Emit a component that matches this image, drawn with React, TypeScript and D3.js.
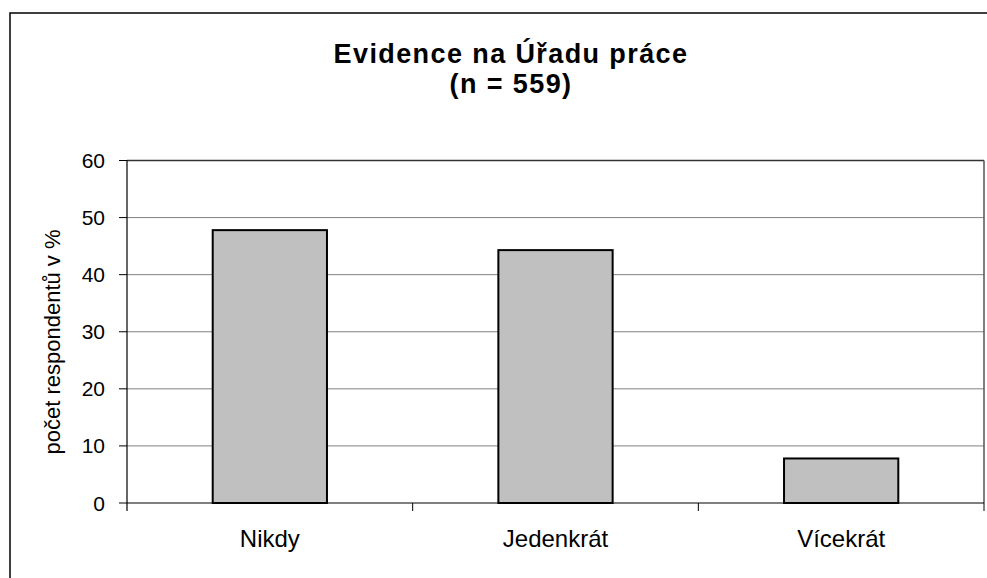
import React from 'react';
import * as d3 from 'd3';

const categories = ['Nikdy', 'Jedenkrát', 'Vícekrát'];
const values = [47.8, 44.3, 7.8];
const yTicks = [0, 10, 20, 30, 40, 50, 60];
const titleLines = ['Evidence na Úřadu práce', '(n = 559)'];
const yLabel = 'počet respondentů v %';

const FONT = '"Liberation Sans", Arial, sans-serif';

const App = () => {
  const width = 987;
  const height = 578;
  const plot = { left: 127, right: 984, top: 160.5, bottom: 503 };

  const x = d3
    .scaleBand<string>()
    .domain(categories)
    .range([plot.left, plot.right])
    .paddingInner(0.6)
    .paddingOuter(0.3);
  const y = d3.scaleLinear().domain([0, 60]).range([plot.bottom, plot.top]);

  const step = x.step();
  const boundaries = d3.range(categories.length + 1).map(i => plot.left + i * step);

  return (
    <svg
      width={width}
      height={height}
      style={{ position: 'absolute', left: 0, top: 0, background: '#fff' }}
      fontFamily={FONT}
    >
      <rect x={10} y={13} width={1100} height={700} fill="#fff" stroke="#000" strokeWidth={1.5} />

      {titleLines.map((t, i) => (
        <text
          key={t}
          x={511}
          y={63 + i * 30}
          textAnchor="middle"
          fontSize={27}
          fontWeight="bold"
          letterSpacing={1.4}
          fill="#000"
        >
          {t}
        </text>
      ))}

      {/* gridlines */}
      {yTicks.slice(1, -1).map(t => (
        <line key={t} x1={plot.left} x2={plot.right} y1={y(t)} y2={y(t)} stroke="#808080" strokeWidth={1} />
      ))}
      <line x1={plot.left} x2={plot.right} y1={y(60)} y2={y(60)} stroke="#333" strokeWidth={1.5} />
      <line x1={plot.right} x2={plot.right} y1={y(60)} y2={plot.bottom} stroke="#555" strokeWidth={1.5} />

      {/* bars */}
      {categories.map((c, i) => (
        <rect
          key={c}
          x={x(c)}
          y={y(values[i])}
          width={x.bandwidth()}
          height={y(0) - y(values[i])}
          fill="#c0c0c0"
          stroke="#000"
          strokeWidth={2}
        />
      ))}

      {/* axes */}
      <line x1={plot.left} x2={plot.right} y1={plot.bottom} y2={plot.bottom} stroke="#000" strokeWidth={1.2} />
      <line x1={plot.left} x2={plot.left} y1={plot.top} y2={plot.bottom + 8} stroke="#000" strokeWidth={1.2} />
      {yTicks.map(t => (
        <g key={t}>
          <line x1={plot.left - 8} x2={plot.left} y1={y(t)} y2={y(t)} stroke="#000" strokeWidth={1} />
          <text x={105} y={y(t)} dy="0.36em" textAnchor="end" fontSize={21} fill="#000">
            {t}
          </text>
        </g>
      ))}
      {boundaries.slice(1).map((b, i) => (
        <line key={i} x1={b} x2={b} y1={plot.bottom} y2={plot.bottom + 8} stroke="#000" strokeWidth={1} />
      ))}
      {categories.map(c => (
        <text key={c} x={(x(c) as number) + x.bandwidth() / 2} y={547} textAnchor="middle" fontSize={24} fill="#000">
          {c}
        </text>
      ))}

      <text
        transform={`translate(60, 342) rotate(-90)`}
        textAnchor="middle"
        fontSize={22}
        fill="#000"
      >
        {yLabel}
      </text>
    </svg>
  );
};

export default App;
